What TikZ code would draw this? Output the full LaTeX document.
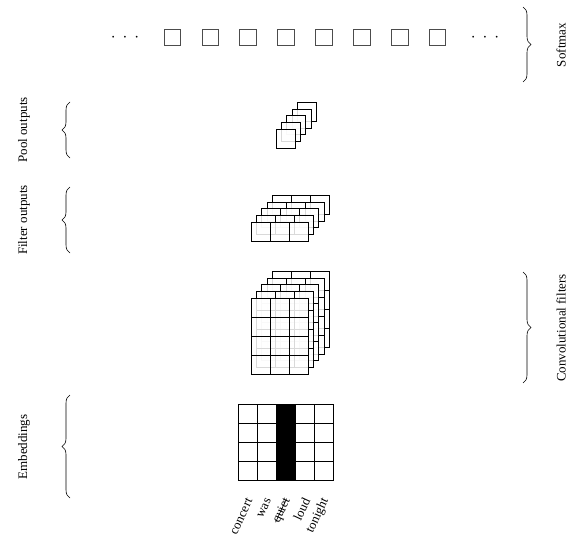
\documentclass[tikz,border=0pt]{standalone}
\usepackage{fontspec}
\setmainfont{Liberation Serif}
\usetikzlibrary{decorations.pathreplacing}

\newcommand\strk[1]{\setbox0\hbox{#1}\rlap{\rule[0.28em]{\wd0}{0.6pt}}\box0}

\begin{document}
\begin{tikzpicture}[x=1pt,y=-1pt,
		every node/.style={font=\fontsize{13}{15}\selectfont},
		dotrow/.style={font=\fontsize{19}{19}\selectfont, inner sep=0pt},
		layer/.style={fill=white, fill opacity=0.85},
		cell/.style={draw, line width=0.8pt},
		outcell/.style={draw=black!70, line width=0.8pt},
		brc/.style={decorate, decoration={brace, amplitude=8pt}, line width=0.6pt}]
	
	\useasboundingbox (0,0) rectangle (567,543);
	
	% softmax row
	\node[dotrow] (ldots) at (125,38) {$\cdot$\hspace{7pt}$\cdot$\hspace{7pt}$\cdot$};
	\foreach \i in {0,...,7}
		\draw[outcell] (164+37.9*\i,29) rectangle ++(16.5,16.5);
	\node[dotrow] (rdots) at (485,38) {$\cdot$\hspace{7pt}$\cdot$\hspace{7pt}$\cdot$};
	
	% pool outputs
	\foreach \l in {4,...,0} {
		\fill[layer] (276+5.3*\l,129-6.7*\l) rectangle ++(19,19);
		\draw[cell] (276+5.3*\l,129-6.7*\l) rectangle ++(19,19);
	}
	
	% filter outputs
	\foreach \l in {4,...,0} {
		\fill[layer] (251+5.3*\l,222-6.7*\l) rectangle ++(57,19);
		\foreach \i in {0,1,2}
			\draw[cell] (251+5.3*\l+19*\i,222-6.7*\l) rectangle ++(19,19);
	}
	
	% convolutional filters
	\foreach \l in {4,...,0} {
		\fill[layer] (251+5.3*\l,298-6.7*\l) rectangle ++(57,76);
		\foreach \i in {0,1,2}
			\foreach \j in {0,...,3}
				\draw[cell] (251+5.3*\l+19*\i,298-6.7*\l+19*\j) rectangle ++(19,19);
	}
	
	% embeddings
	\fill (276,404) rectangle ++(19,76);
	\foreach \i in {0,...,4}
		\foreach \j in {0,...,3}
			\draw[cell] (238+19*\i,404+19*\j) rectangle ++(19,19);
	
	\foreach \w [count=\i from 0] in {concert,was,\strk{quiet},loud,tonight}
		\node[rotate=65, anchor=east, inner sep=1pt] (w\i) at (250+19*\i,498) {\w};
	
	% braces and labels
	\draw[brc] (70,158) -- (70,102);
	\draw[brc] (70,253) -- (70,187);
	\draw[brc] (70,498) -- (70,395);
	\draw[brc] (523,7) -- (523,82);
	\draw[brc] (523,272) -- (523,383);
	
	\node[rotate=90] (poollbl) at (24,130) {Pool outputs};
	\node[rotate=90] (filtlbl) at (24,220) {Filter outputs};
	\node[rotate=90] (emblbl) at (24,447) {Embeddings};
	\node[rotate=90] (smlbl) at (561,45) {Softmax};
	\node[rotate=90] (convlbl) at (561,328) {Convolutional filters};
	
\end{tikzpicture}
\end{document}
